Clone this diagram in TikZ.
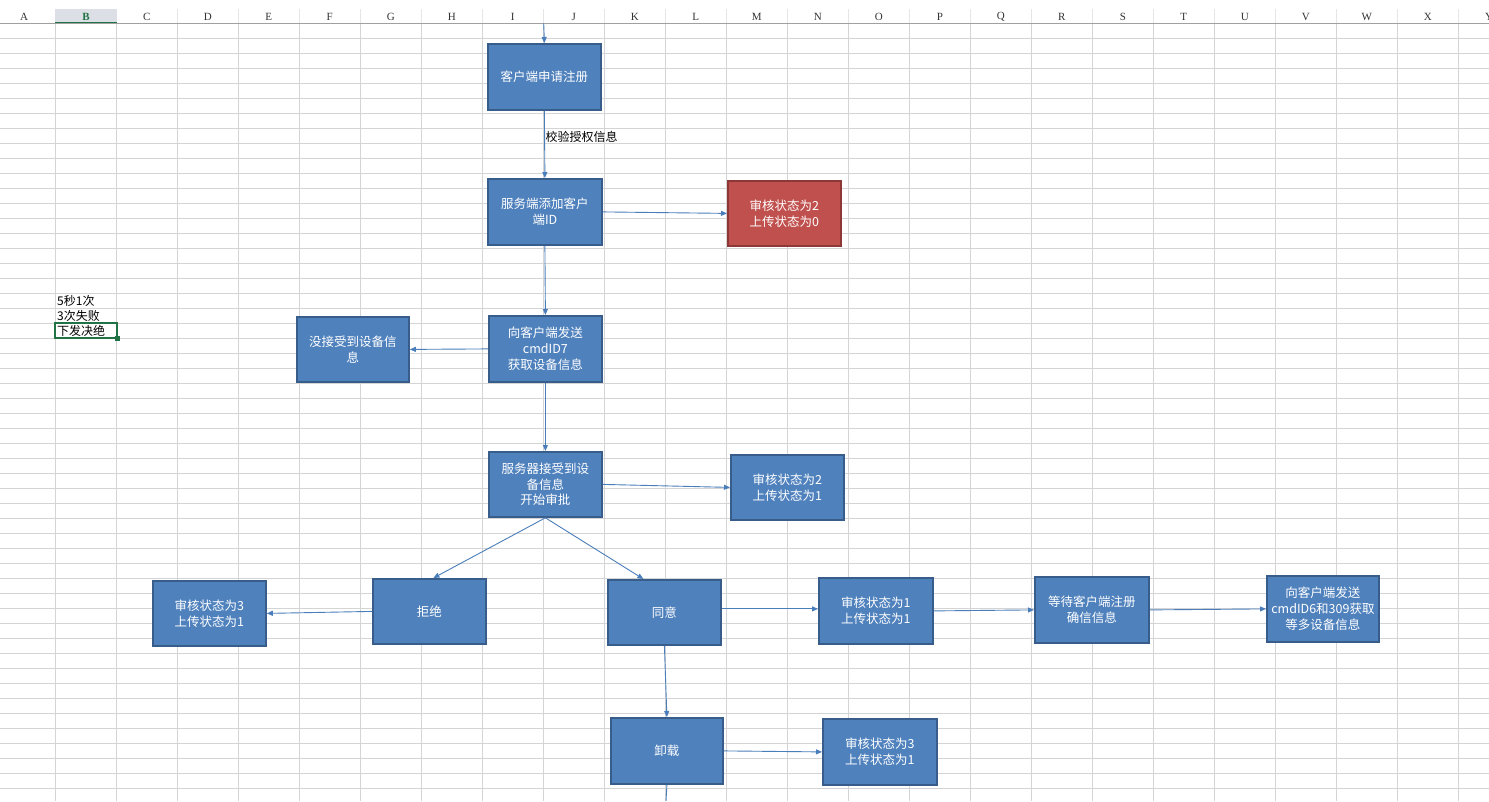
\documentclass[tikz,border=0pt]{standalone}
\usepackage{fontspec}
\newfontfamily\cjk{Noto Sans CJK SC}
\newfontfamily\hdrfont{Liberation Serif}
\usetikzlibrary{arrows.meta,calc}
\definecolor{gridc}{HTML}{D4D4D4}
\definecolor{hdrline}{HTML}{A0A0A0}
\definecolor{boxfill}{HTML}{4F81BD}
\definecolor{boxline}{HTML}{385D8A}
\definecolor{redfill}{HTML}{C0504D}
\definecolor{redline}{HTML}{8C3836}
\definecolor{arrowc}{HTML}{4A7EBB}
\definecolor{xlgreen}{HTML}{217346}
\definecolor{hdrsel}{HTML}{DCDFE6}
\begin{document}
\begin{tikzpicture}[x=1pt,y=-1pt,
  flowbox/.style={draw=boxline, fill=boxfill, line width=1.8pt, text=white, align=center,
    font=\cjk\fontsize{12.5}{15.7}\selectfont, inner sep=0pt, anchor=north west},
  redbox/.style={flowbox, draw=redline, fill=redfill},
  conn/.style={draw=arrowc, line width=0.9pt, -{Triangle[length=6pt,width=5pt]}},
  plainconn/.style={draw=arrowc, line width=0.9pt},
  celltext/.style={font=\cjk\fontsize{12}{14}\selectfont, anchor=west, inner sep=0pt},
  colhdr/.style={font=\hdrfont\fontsize{11}{12}\selectfont, text=black!80, inner sep=0pt}]
\useasboundingbox (0,0) rectangle (1489,801);
\fill[white] (0,0) rectangle (1489,801);
% grid
\foreach \k in {1,...,52} {
  \draw[gridc, line width=0.8pt] (0,{23.3+15*\k}) -- (1489,{23.3+15*\k});
}
\foreach \k in {0,...,23} {
  \draw[gridc, line width=0.8pt] ({55.3+61*\k},23.3) -- ({55.3+61*\k},801);
  \draw[gridc!60, line width=0.8pt] ({55.3+61*\k},9) -- ({55.3+61*\k},23.3);
}
% header
\fill[hdrsel] (55.3,9) rectangle (116.7,23.3);
\draw[hdrline, line width=0.9pt] (0,23.3) -- (1489,23.3);
\draw[xlgreen, line width=1.6pt] (55.3,22.6) -- (116.7,22.6);
\node[colhdr] (hA) at (24,17) {A};
\node[colhdr, text=xlgreen, font=\hdrfont\bfseries\fontsize{11}{12}\selectfont] (hB) at (86,17) {B};
\foreach \l [count=\i from 2] in {C,D,E,F,G,H,I,J,K,L,M,N,O,P,Q,R,S,T,U,V,W,X} {
  \node[colhdr] (h\l) at ({55.3+61*(\i-1)+30.5},17) {\l};
}
\node[colhdr, anchor=west] (hY) at (1485,17) {Y};
% selected cell and notes
\node[celltext] (n1) at (57,301) {5秒1次};
\node[celltext] (n2) at (57,316) {3次失败};
\node[celltext] (n3) at (57,331) {下发决绝};
\draw[xlgreen, line width=1.8pt] (55.3,323.3) rectangle (116.7,338.3);
\fill[xlgreen] (114.7,336.3) rectangle (119.7,341.3);
% boxes
\node[flowbox, minimum width=113pt, minimum height=66pt] (a) at (487,43) {客户端申请注册};
\node[flowbox, minimum width=114pt, minimum height=66pt] (b) at (487,178) {服务端添加客户\\端ID};
\node[redbox, minimum width=113pt, minimum height=65pt] (red) at (727,180) {审核状态为2\\上传状态为0};
\node[flowbox, minimum width=113pt, minimum height=66pt] (c) at (488,315) {向客户端发送\\cmdID7\\获取设备信息};
\node[flowbox, minimum width=112pt, minimum height=65pt] (d) at (296,316) {没接受到设备信\\息};
\node[flowbox, minimum width=113pt, minimum height=65pt] (e) at (488,451) {服务器接受到设\\备信息\\开始审批};
\node[flowbox, minimum width=113pt, minimum height=65pt] (f) at (730,454) {审核状态为2\\上传状态为1};
\node[flowbox, minimum width=113pt, minimum height=65pt] (jj) at (372,578) {拒绝};
\node[flowbox, minimum width=113pt, minimum height=65pt] (h) at (152,580) {审核状态为3\\上传状态为1};
\node[flowbox, minimum width=113pt, minimum height=65pt] (ty) at (607,579) {同意};
\node[flowbox, minimum width=112pt, minimum height=66pt] (j) at (610,717) {卸载};
\node[flowbox, minimum width=114pt, minimum height=66pt] (k) at (818,577) {审核状态为1\\上传状态为1};
\node[flowbox, minimum width=114pt, minimum height=66pt] (l) at (1034,576) {等待客户端注册\\确信信息};
\node[flowbox, minimum width=112pt, minimum height=66pt] (m) at (1266,575) {向客户端发送\\cmdID6和309获取\\等多设备信息};
\node[flowbox, minimum width=114pt, minimum height=66pt] (n) at (822,718) {审核状态为3\\上传状态为1};
% connectors
\coordinate (top) at (543.7,23.3);
\coordinate (bottom) at (666,801);
\draw[conn] (top) -- (a.north);
\draw[conn] (a.south) -- (b.north);
\node[celltext] (lbl) at (545.5,137) {校验授权信息};
\draw[conn] (b.east) -- (red.west);
\draw[conn] (b.south) -- (c.north);
\draw[conn] (c.west) -- (d.east);
\draw[conn] (c.south) -- (e.north);
\draw[conn] (e.east) -- (f.west);
\draw[conn] (e.south) -- ([xshift=4pt]jj.north);
\draw[conn] (e.south) -- ([xshift=-21pt]ty.north);
\draw[conn] (jj.west) -- (h.east);
\draw[conn] ([yshift=3.5pt]ty.east) -- ([yshift=2pt]k.west);
\draw[conn] (k.east) -- (l.west);
\draw[conn] (l.east) -- (m.west);
\draw[conn] (ty.south) -- (j.north);
\draw[conn] (j.east) -- (n.west);
\draw[plainconn] (j.south) -- (bottom);
\end{tikzpicture}
\end{document}
